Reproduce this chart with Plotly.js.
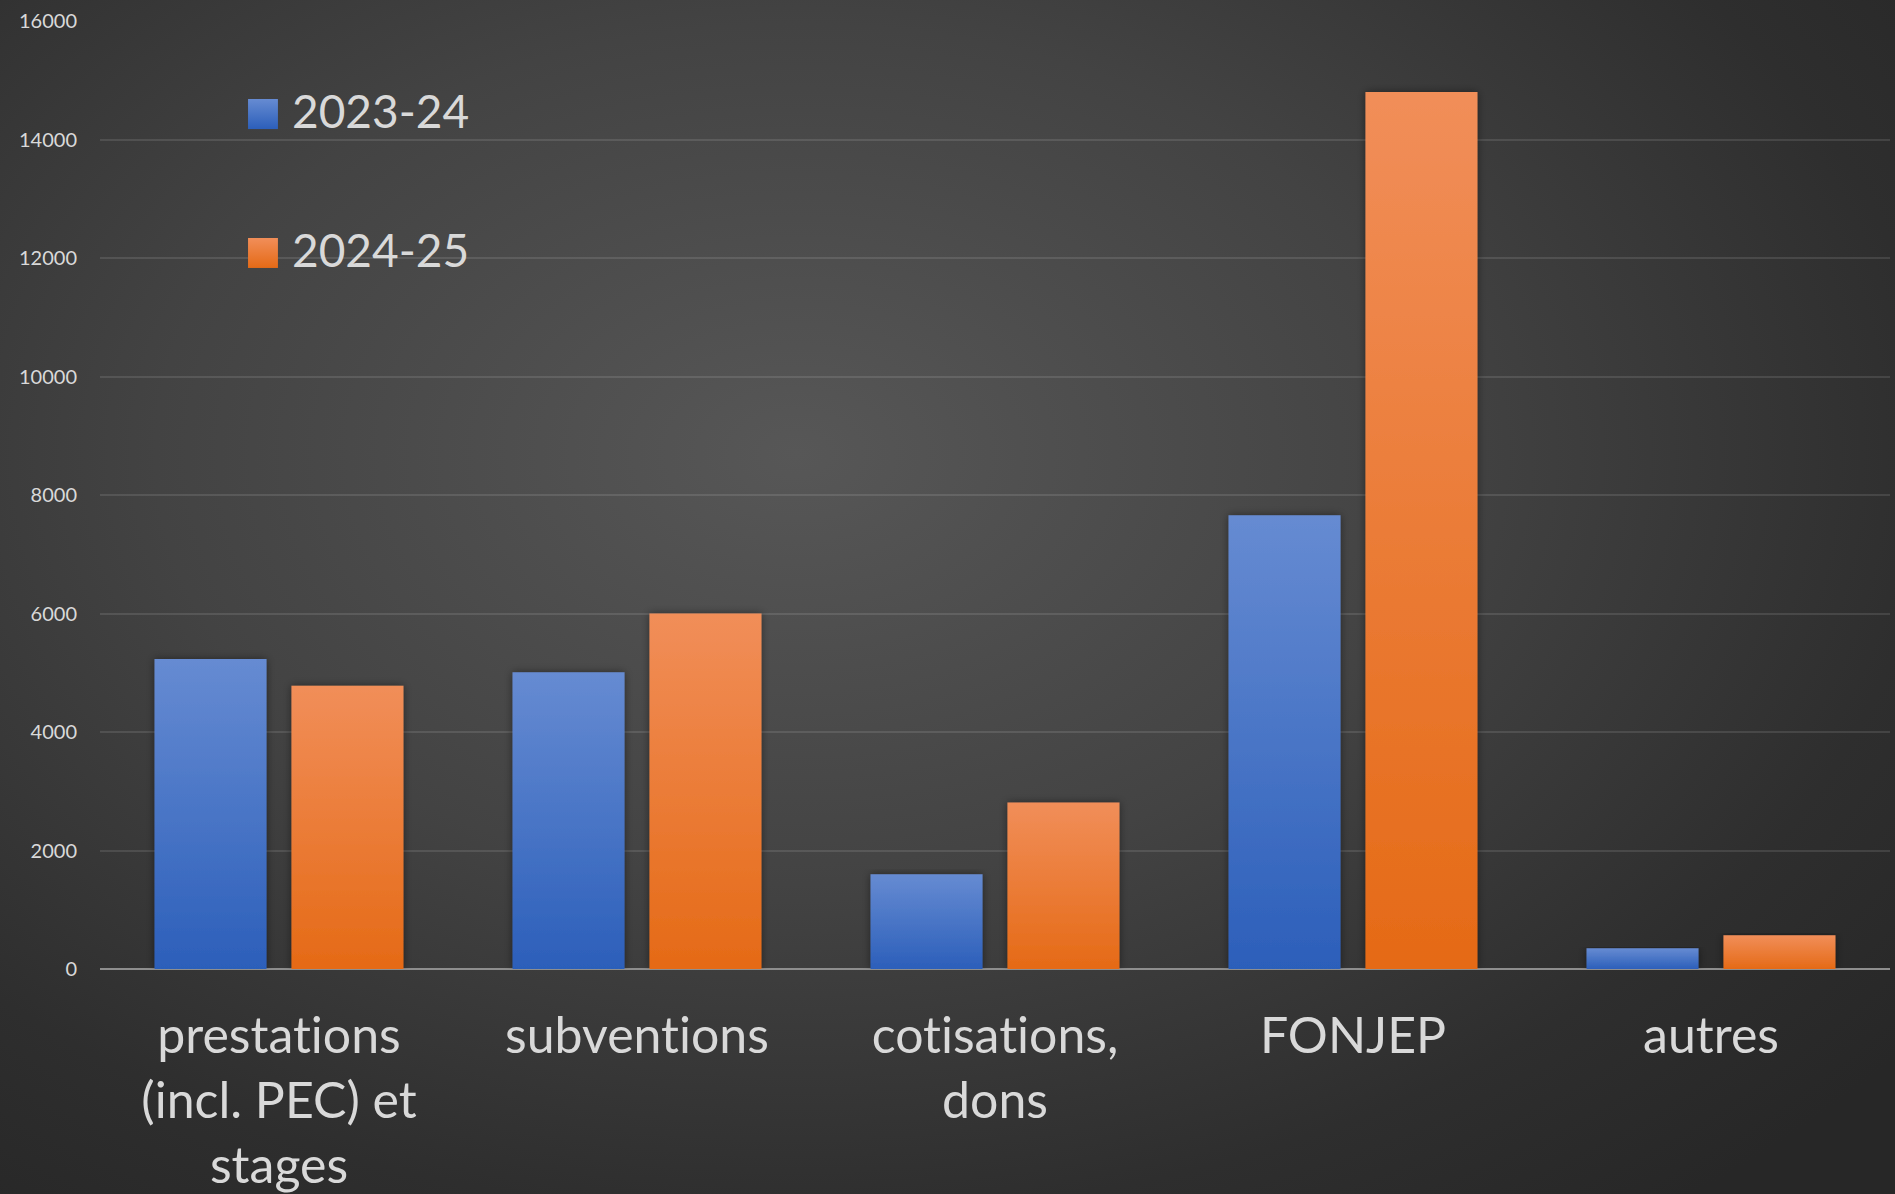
<!DOCTYPE html>
<html>
<head>
<meta charset="utf-8">
<script src="https://cdn.plot.ly/plotly-3.0.1.min.js"></script>
<style>
  html, body { margin: 0; padding: 0; width: 1895px; height: 1194px; overflow: hidden; }
  body { background: radial-gradient(ellipse 75% 80% at 42% 38%, #575757 0%, #434343 45%, #2e2e2e 80%, #272727 100%); }
  #chart { width: 1895px; height: 1194px; }
  svg text { font-variant-ligatures: none !important; font-feature-settings: "liga" 0, "clig" 0 !important; }
</style>
</head>
<body>
<div id="chart"></div>
<script>
// ---- data ----
const categories = ["prestations<br>(incl. PEC) et<br>stages", "subventions", "cotisations,<br>dons", "FONJEP", "autres"];
const seriesNames = ["2023-24", "2024-25"];
const values2023 = [5230, 5010, 1600, 7660, 350];
const values2024 = [4780, 6000, 2810, 14800, 570];
const yTicks = [0, 2000, 4000, 6000, 8000, 10000, 12000, 14000, 16000];
const seriesColors = ["#4472C4", "#ED7D31"];

const font = "Lato, 'Open Sans', sans-serif";
const textColor = "#d9d9d9";

const traces = [
  { type: "bar", name: seriesNames[0], x: categories, y: values2023, marker: { color: seriesColors[0], line: { width: 0 } }, hoverinfo: "x+y" },
  { type: "bar", name: seriesNames[1], x: categories, y: values2024, marker: { color: seriesColors[1], line: { width: 0 } }, hoverinfo: "x+y" }
];

// legend built as shapes + annotations (large swatches)
const legendY = [[0.886, 0.9177, 0.9055], [0.7395, 0.7711, 0.7585]];
const shapes = seriesNames.map((n, i) => ({
  type: "rect", xref: "paper", yref: "paper",
  x0: 0.0827, x1: 0.0994, y0: legendY[i][0], y1: legendY[i][1],
  fillcolor: seriesColors[i], line: { width: 0 }, layer: "above"
}));
const annotations = seriesNames.map((n, i) => ({
  xref: "paper", yref: "paper", x: 0.106, y: legendY[i][2],
  xanchor: "left", yanchor: "middle", showarrow: false, text: n,
  font: { family: font, size: 46, color: textColor }
}));

const layout = {
  width: 1895, height: 1194,
  margin: { l: 100, r: 5, t: 21, b: 225 },
  paper_bgcolor: "rgba(0,0,0,0)",
  plot_bgcolor: "rgba(0,0,0,0)",
  showlegend: false,
  barmode: "group",
  bargap: 0.235,
  bargroupgap: 0.182,
  xaxis: {
    type: "category",
    tickfont: { family: font, size: 50, color: textColor },
    ticks: "", showgrid: false, showline: false, zeroline: false,
    ticklabelstandoff: 33
  },
  yaxis: {
    range: [0, 16000],
    tickvals: yTicks, ticktext: yTicks.map(String),
    tickfont: { family: font, size: 20, color: textColor },
    ticks: "", ticklabelstandoff: 22,
    showgrid: true, gridcolor: "rgba(255,255,255,0.11)", gridwidth: 2,
    zeroline: true, zerolinecolor: "#8e8e8e", zerolinewidth: 2.5,
    showline: false
  },
  shapes: shapes,
  annotations: annotations
};

Plotly.newPlot("chart", traces, layout, { staticPlot: true, displayModeBar: false }).then(gd => {
  // add vertical gradients and soft shadows to bars
  const svg = gd.querySelector("svg.main-svg");
  const ns = "http://www.w3.org/2000/svg";
  let defs = svg.querySelector("defs");
  if (!defs) { defs = document.createElementNS(ns, "defs"); svg.insertBefore(defs, svg.firstChild); }
  const grads = [["gBlue", "#668bd2", "#2c5fba"], ["gOrange", "#f18e59", "#e56a16"]];
  grads.forEach(([id, c1, c2]) => {
    const g = document.createElementNS(ns, "linearGradient");
    g.setAttribute("id", id); g.setAttribute("x1", "0"); g.setAttribute("y1", "0"); g.setAttribute("x2", "0"); g.setAttribute("y2", "1");
    const s1 = document.createElementNS(ns, "stop"); s1.setAttribute("offset", "0"); s1.setAttribute("stop-color", c1);
    const s2 = document.createElementNS(ns, "stop"); s2.setAttribute("offset", "1"); s2.setAttribute("stop-color", c2);
    g.appendChild(s1); g.appendChild(s2); defs.appendChild(g);
  });
  const f = document.createElementNS(ns, "filter");
  f.setAttribute("id", "barShadow"); f.setAttribute("x", "-20%"); f.setAttribute("y", "-5%"); f.setAttribute("width", "140%"); f.setAttribute("height", "110%");
  const ds = document.createElementNS(ns, "feDropShadow");
  ds.setAttribute("dx", "0"); ds.setAttribute("dy", "0"); ds.setAttribute("stdDeviation", "4"); ds.setAttribute("flood-color", "#000"); ds.setAttribute("flood-opacity", "0.45");
  f.appendChild(ds); defs.appendChild(f);
  const traceGroups = gd.querySelectorAll("g.trace.bars");
  traceGroups.forEach((tg, i) => {
    tg.querySelectorAll("path").forEach(p => {
      p.style.fill = "url(#" + grads[i][0] + ")";
      p.style.filter = "url(#barShadow)";
    });
  });
  // legend swatches gradients
  const rects = gd.querySelectorAll(".layer-above .shapelayer path");
  rects.forEach((p, i) => { if (grads[i]) p.style.fill = "url(#" + grads[i][0] + ")"; });
  // disable ligatures (reference font has none)
  gd.querySelectorAll("text").forEach(t => { t.style.fontVariantLigatures = "none"; t.style.fontFeatureSettings = '"liga" 0'; });
});
</script>
</body>
</html>
